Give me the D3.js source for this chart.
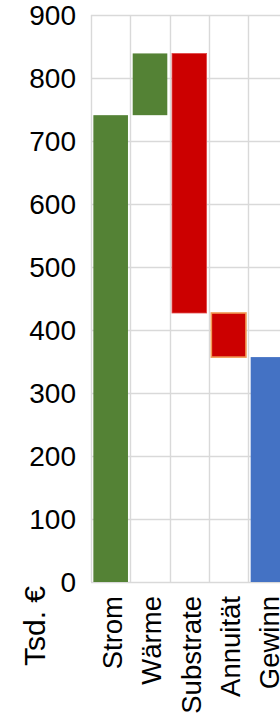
<!DOCTYPE html>
<html>
<head>
<meta charset="utf-8">
<script src="https://cdn.jsdelivr.net/npm/d3@7"></script>
<style>
  html, body { margin: 0; padding: 0; background: #fff; overflow: hidden; }
  svg { display: block; font-family: "Liberation Sans", Arial, sans-serif; }
</style>
</head>
<body>
<script>
// ---- data ----
const categories = ["Strom", "Wärme", "Substrate", "Annuität", "Gewinn"];
const values = [741, 98, -412, -70, 357];
const isTotal = [false, false, false, false, true];
const yTicks = [0, 100, 200, 300, 400, 500, 600, 700, 800, 900];
const yTitle = "Tsd. €";

(function () {
// ---- build waterfall segments ----
let running = 0;
const bars = categories.map((c, i) => {
  let start, end;
  if (isTotal[i]) { start = 0; end = values[i]; running = values[i]; }
  else { start = running; end = running + values[i]; running = end; }
  return { cat: c, start, end, total: isTotal[i], value: values[i] };
});

// ---- layout ----
const W = 280, H = 716;
const mLeft = 91, mTop = 15, mBottom = 582;
const step = 39.33;
const mRight = mLeft + step * categories.length;

const svg = d3.select("body").append("svg").attr("width", W).attr("height", H);

const x = d3.scaleBand().domain(categories).range([mLeft, mRight])
  .paddingInner(0.12).paddingOuter(0.06);
const y = d3.scaleLinear().domain([0, 900]).range([mBottom, mTop]);

// horizontal gridlines
svg.append("g").selectAll("line").data(yTicks).join("line")
  .attr("x1", mLeft).attr("x2", mRight)
  .attr("y1", d => Math.round(y(d)) + 0.5).attr("y2", d => Math.round(y(d)) + 0.5)
  .attr("stroke", "#d9d9d9").attr("stroke-width", 1.4);

// vertical gridlines at category boundaries
const vlines = d3.range(categories.length + 1).map(i => mLeft + i * x.step());
svg.append("g").selectAll("line").data(vlines).join("line")
  .attr("x1", d => Math.round(d) + 0.5).attr("x2", d => Math.round(d) + 0.5)
  .attr("y1", mTop).attr("y2", mBottom)
  .attr("stroke", "#d9d9d9").attr("stroke-width", 1.4);

// bars
const fillFor = b => b.total ? "#4472c4" : (b.value >= 0 ? "#548235" : "#cc0000");
const strokeFor = b => b.cat === "Annuität" ? "#f19a55" : (b.value < 0 ? "#e04a4a" : "none");
svg.append("g").selectAll("rect").data(bars).join("rect")
  .attr("x", d => x(d.cat))
  .attr("width", x.bandwidth())
  .attr("y", d => y(Math.max(d.start, d.end)))
  .attr("height", d => Math.abs(y(d.start) - y(d.end)))
  .attr("fill", fillFor)
  .attr("stroke", strokeFor)
  .attr("stroke-width", d => d.cat === "Annuität" ? 1.6 : 0.8);

// y tick labels
const yAxis = d3.axisLeft(y).tickValues(yTicks).tickSize(0).tickPadding(0);
const gy = svg.append("g").attr("transform", "translate(76,1)").call(yAxis);
gy.select(".domain").remove();
gy.selectAll("text").attr("font-size", 28).attr("fill", "#000")
  .attr("font-family", "Liberation Sans, Arial, sans-serif");

// x labels (rotated)
const xAxis = d3.axisBottom(x).tickSize(0).tickPadding(0);
const gx = svg.append("g").attr("transform", `translate(0,${mBottom})`).call(xAxis);
gx.select(".domain").remove();
gx.selectAll("text")
  .attr("font-size", 27.5).attr("fill", "#000")
  .attr("font-family", "Liberation Sans, Arial, sans-serif")
  .attr("text-anchor", "end")
  .attr("dy", null).attr("y", null)
  .attr("transform", "translate(11.5,14) rotate(-90)");

// y axis title
svg.append("text")
  .attr("transform", "translate(45,666) rotate(-90)")
  .attr("text-anchor", "start")
  .attr("font-size", 30)
  .attr("fill", "#000")
  .text(yTitle);
})();
</script>
</body>
</html>
